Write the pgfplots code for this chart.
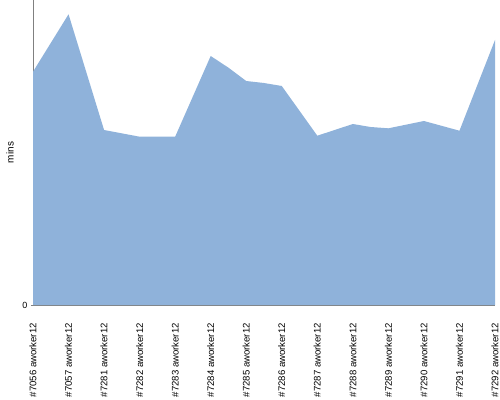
\documentclass[border=0pt]{standalone}
\usepackage{pgfplots}
\pgfplotsset{compat=1.18}
\usepackage{fontspec}
\setmainfont{Liberation Sans}
\definecolor{areafill}{RGB}{143,178,218}
\definecolor{axisgray}{RGB}{128,128,128}
\begin{document}
\begin{tikzpicture}[x=1bp,y=1bp]
\useasboundingbox (-33bp,-95bp) rectangle (467bp,305bp);
\begin{axis}[
  at={(0,0)}, anchor=south west,
  scale only axis,
  width=462bp, height=305bp,
  xmin=0, xmax=13, ymin=0, ymax=305,
  axis lines=left,
  axis line style={axisgray, -},
  xtick={0,...,13},
  xticklabels={\#7056 aworker12,\#7057 aworker12,\#7281 aworker12,\#7282 aworker12,\#7283 aworker12,\#7284 aworker12,\#7285 aworker12,\#7286 aworker12,\#7287 aworker12,\#7288 aworker12,\#7289 aworker12,\#7290 aworker12,\#7291 aworker12,\#7292 aworker12},
  x tick label style={rotate=90, anchor=east, font=\fontsize{9.6}{10}\selectfont, xshift=-16bp, inner sep=0pt},
  ytick={0},
  y tick label style={font=\fontsize{9}{10}\selectfont},
  /pgf/number format/assume math mode=true,
  major x tick style={draw=none},
  major y tick style={axisgray},
  major tick length=4bp,
  ylabel={mins},
  ylabel style={font=\fontsize{11}{12}\selectfont},
  every axis y label/.style={at={(ticklabel cs:0.5)}, rotate=90, anchor=center, yshift=9bp},
  clip=false,
]
\addplot[draw=none, fill=areafill] coordinates {
  (0,233.3) (1,290.7) (2,175) (3,168.3) (4,168.3) (5,249) (5.5,237.3)
  (6,224) (6.5,222) (7,219) (8,169.3) (9,181) (9.5,178) (10,176.7)
  (11,184) (12,174.3) (13,265)
} \closedcycle;
\end{axis}
\end{tikzpicture}
\end{document}
